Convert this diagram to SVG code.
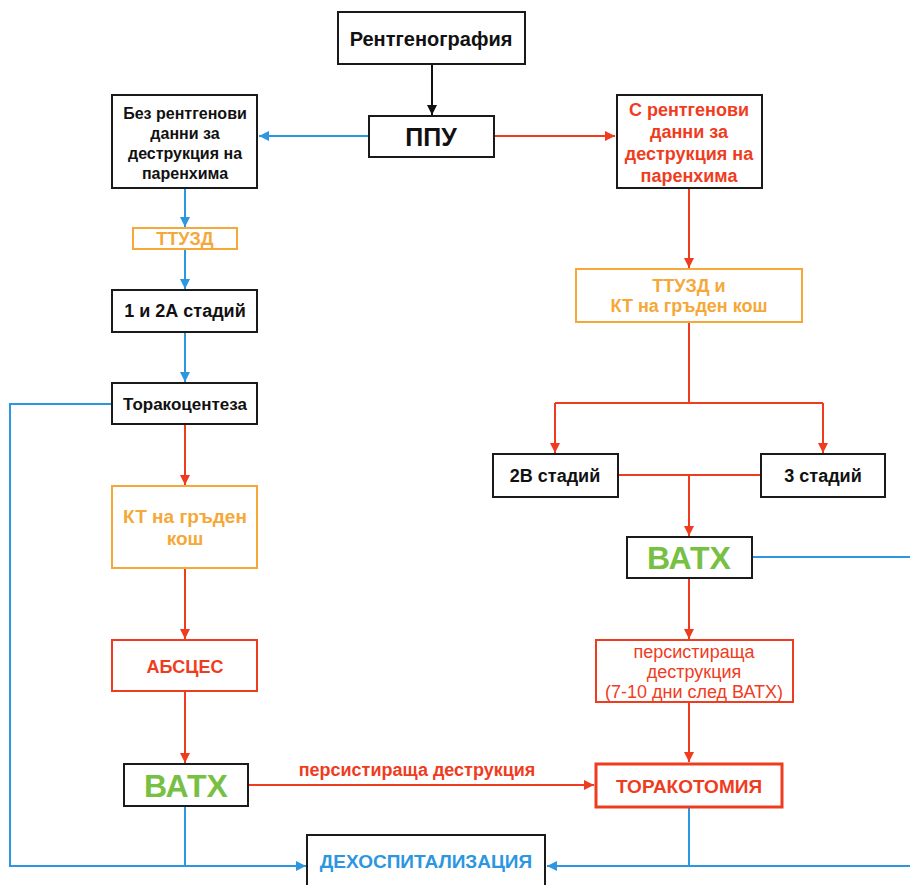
<svg xmlns="http://www.w3.org/2000/svg" width="910" height="885" viewBox="0 0 910 885">
<defs>
<style>
.box{fill:#fff;stroke:#1a1a1a;stroke-width:2}
.obox{fill:#fff;stroke:#f5a838;stroke-width:2}
.rbox{fill:#fff;stroke:#f03c1e;stroke-width:2}
.rbox3{fill:#fff;stroke:#f03c1e;stroke-width:3}
text{font-family:"Liberation Sans",Arial,sans-serif;font-weight:bold;text-anchor:middle;dominant-baseline:central}
.k{fill:#111}
.r{fill:#f03c1e}
.o{fill:#f5a838}
.g{fill:#77c043}
.b{fill:#2d96e0}
.lb{fill:none;stroke:#2d96e0;stroke-width:2}
.lr{fill:none;stroke:#f03c1e;stroke-width:2}
.lk{fill:none;stroke:#111;stroke-width:2}
</style>
<marker id="ak" markerWidth="12" markerHeight="12" refX="10" refY="5" orient="auto" markerUnits="userSpaceOnUse"><path d="M0,0 L10,5 L0,10 Z" fill="#111"/></marker>
<marker id="ar" markerWidth="12" markerHeight="12" refX="10" refY="5" orient="auto" markerUnits="userSpaceOnUse"><path d="M0,0 L10,5 L0,10 Z" fill="#f03c1e"/></marker>
<marker id="ab" markerWidth="12" markerHeight="12" refX="10" refY="5" orient="auto" markerUnits="userSpaceOnUse"><path d="M0,0 L10,5 L0,10 Z" fill="#2d96e0"/></marker>
</defs>
<rect width="910" height="885" fill="#fff"/>

<g id="connectors">
<path class="lk" d="M432,64 V115" marker-end="url(#ak)"/>
<path class="lb" d="M369,136 H259" marker-end="url(#ab)"/>
<path class="lr" d="M494,136 H615" marker-end="url(#ar)"/>
<path class="lb" d="M185,188 V227" marker-end="url(#ab)"/>
<path class="lb" d="M185,249 V289" marker-end="url(#ab)"/>
<path class="lb" d="M185,332 V382" marker-end="url(#ab)"/>
<path class="lb" d="M112,404 H10 V866 H306" marker-end="url(#ab)"/>
<path class="lr" d="M185,424 V485" marker-end="url(#ar)"/>
<path class="lr" d="M185,568 V639" marker-end="url(#ar)"/>
<path class="lr" d="M185,691 V763" marker-end="url(#ar)"/>
<path class="lr" d="M248,785 H594" marker-end="url(#ar)"/>
<path class="lb" d="M185,806 V866"/>
<path class="lr" d="M689,188 V268" marker-end="url(#ar)"/>
<path class="lr" d="M689,322 V403"/>
<path class="lr" d="M555,403 H823"/>
<path class="lr" d="M555,403 V453" marker-end="url(#ar)"/>
<path class="lr" d="M823,403 V453" marker-end="url(#ar)"/>
<path class="lr" d="M618,475 H761"/>
<path class="lr" d="M689,475 V536" marker-end="url(#ar)"/>
<path class="lb" d="M752,557 H912"/>
<path class="lr" d="M689,578 V639" marker-end="url(#ar)"/>
<path class="lr" d="M689,702 V762" marker-end="url(#ar)"/>
<path class="lb" d="M689,807 V866"/>
<path class="lb" d="M912,866 H547" marker-end="url(#ab)"/>
<text class="r" x="417" y="770" font-size="18">персистираща деструкция</text>
</g>

<g id="rentgen"><rect class="box" x="338" y="12" width="187" height="52"/><text class="k" x="431" y="39" font-size="20">Рентгенография</text></g>
<g id="ppu"><rect class="box" x="369" y="116" width="125" height="41"/><text class="k" x="431" y="137" font-size="25">ППУ</text></g>
<g id="bez"><rect class="box" x="112" y="95" width="145" height="93"/>
<text class="k" font-size="16"><tspan x="185" y="113">Без рентгенови</tspan><tspan x="185" y="133">данни за</tspan><tspan x="185" y="153">деструкция на</tspan><tspan x="185" y="173">паренхима</tspan></text></g>
<g id="s"><rect class="box" x="617" y="95" width="145" height="93"/>
<text class="r" font-size="18"><tspan x="689" y="110">С рентгенови</tspan><tspan x="689" y="132">данни за</tspan><tspan x="689" y="154">деструкция на</tspan><tspan x="689" y="176">паренхима</tspan></text></g>
<g id="ttuzd"><rect class="obox" x="133" y="228" width="104" height="21"/><text class="o" x="185" y="239" font-size="18">ТТУЗД</text></g>
<g id="ttuzdkt"><rect class="obox" x="576" y="269" width="226" height="53"/>
<text class="o" font-size="18"><tspan x="689" y="286">ТТУЗД и</tspan><tspan x="689" y="306">КТ на гръден кош</tspan></text></g>
<g id="st12a"><rect class="box" x="112" y="290" width="145" height="42"/><text class="k" x="185" y="311" font-size="18">1 и 2А стадий</text></g>
<g id="torako"><rect class="box" x="112" y="383" width="145" height="41"/><text class="k" x="185" y="404" font-size="17">Торакоцентеза</text></g>
<g id="kt"><rect class="obox" x="112" y="486" width="145" height="82"/>
<text class="o" font-size="19"><tspan x="185" y="516">КТ на гръден</tspan><tspan x="185" y="538">кош</tspan></text></g>
<g id="abscess"><rect class="rbox" x="112" y="640" width="145" height="51"/><text class="r" x="185" y="667" font-size="18">АБСЦЕС</text></g>
<g id="vath1"><rect class="box" x="124" y="764" width="124" height="42"/><text class="g" x="186" y="786" font-size="32">ВАТХ</text></g>
<g id="st2b"><rect class="box" x="493" y="454" width="125" height="43"/><text class="k" x="555" y="476" font-size="18">2В стадий</text></g>
<g id="st3"><rect class="box" x="761" y="454" width="124" height="43"/><text class="k" x="823" y="476" font-size="18">3 стадий</text></g>
<g id="vath2"><rect class="box" x="627" y="537" width="125" height="41"/><text class="g" x="689" y="558" font-size="32">ВАТХ</text></g>
<g id="persist"><rect class="rbox" x="596" y="640" width="197" height="62"/>
<text class="r" font-size="18" style="font-weight:normal"><tspan x="694" y="652">персистираща</tspan><tspan x="694" y="672">деструкция</tspan><tspan x="694" y="692">(7-10 дни след ВАТХ)</tspan></text></g>
<g id="torakotomia"><rect class="rbox3" x="596" y="764" width="186" height="43"/><text class="r" x="689" y="786" font-size="19">ТОРАКОТОМИЯ</text></g>
<g id="dehosp"><rect class="box" x="307" y="835" width="238" height="60"/><text class="b" x="426" y="861" font-size="19">ДЕХОСПИТАЛИЗАЦИЯ</text></g>
</svg>
